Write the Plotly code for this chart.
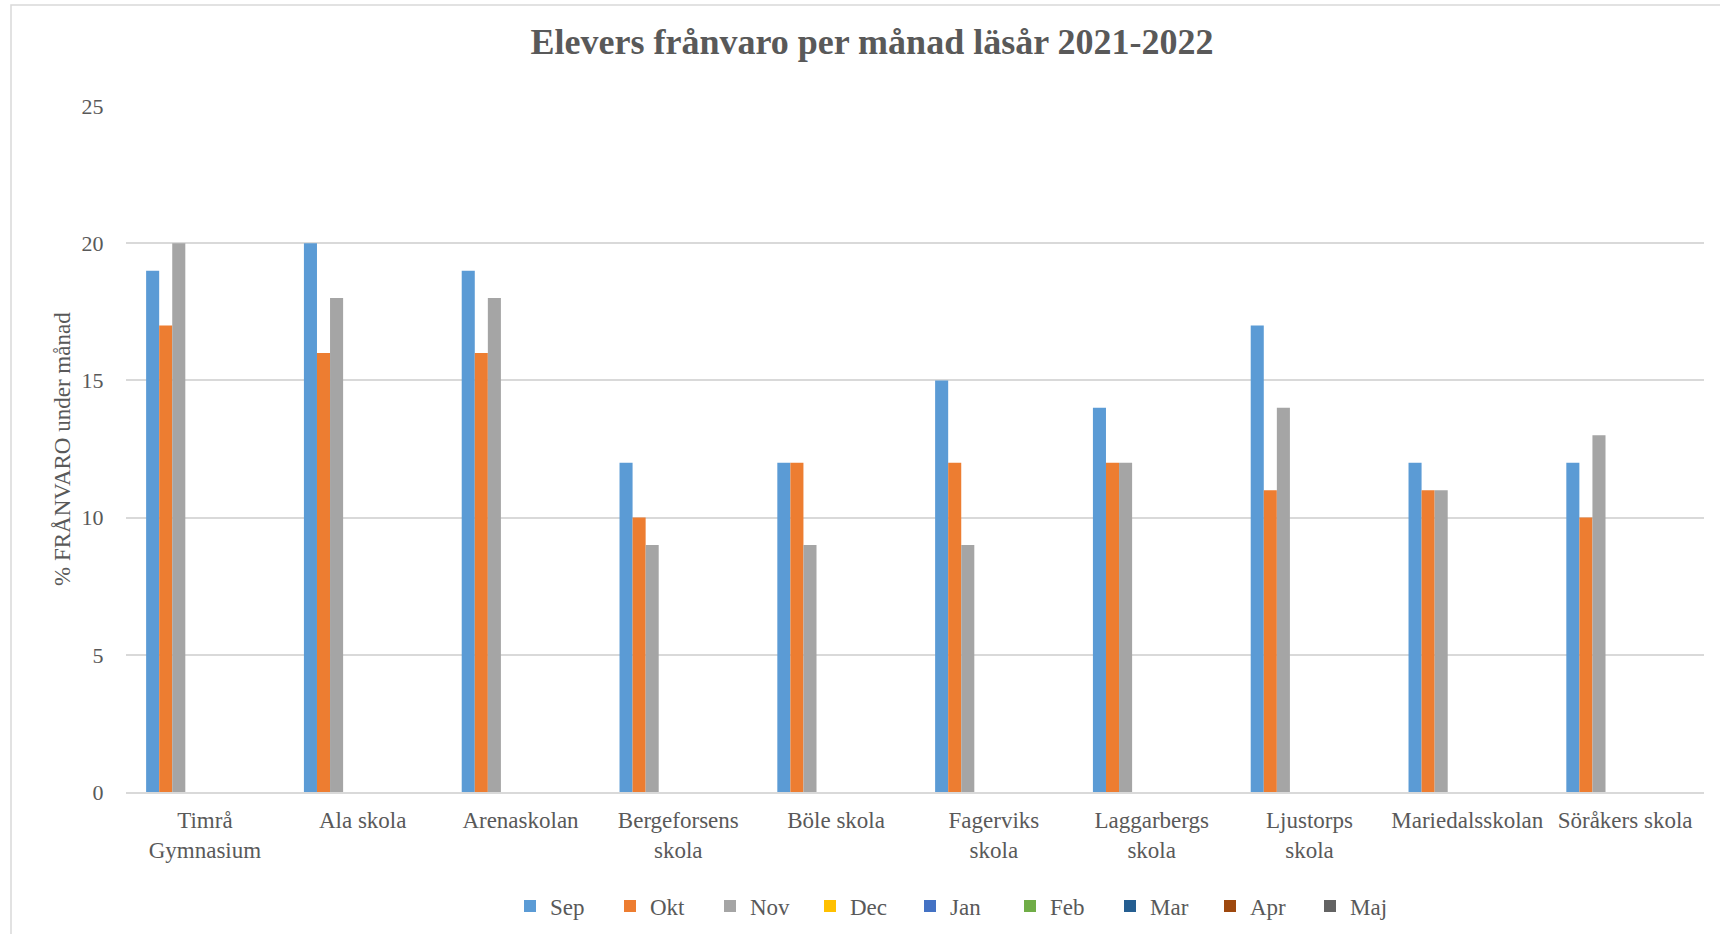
import plotly.graph_objects as go

schools = ["Timrå<br>Gymnasium", "Ala skola", "Arenaskolan", "Bergeforsens<br>skola", "Böle skola",
           "Fagerviks<br>skola", "Laggarbergs<br>skola", "Ljustorps<br>skola", "Mariedalsskolan", "Söråkers skola"]
months = ["Sep", "Okt", "Nov", "Dec", "Jan", "Feb", "Mar", "Apr", "Maj"]
sep = [19, 20, 19, 12, 12, 15, 14, 17, 12, 12]
okt = [17, 16, 16, 10, 12, 12, 12, 11, 11, 10]
nov = [20, 18, 18, 9, 9, 9, 12, 14, 11, 13]
empty = [None] * 10
series = [sep, okt, nov, empty, empty, empty, empty, empty, empty]
colors = ["#5B9BD5", "#ED7D31", "#A5A5A5", "#FFC000", "#4472C4", "#70AD47", "#255E91", "#9E480E", "#636363"]
y_ticks = [0, 5, 10, 15, 20, 25]

FONT = "Liberation Serif"
TXT = "#595959"

fig = go.Figure()
for m, vals, c in zip(months, series, colors):
    fig.add_trace(go.Bar(name=m, x=schools, y=vals, marker=dict(color=c, line=dict(width=0))))

L, R, T, B = 126, 16, 106, 142
W, H = 1720, 934
pw, ph = W - L - R, H - T - B

fig.update_layout(
    width=W, height=H,
    margin=dict(l=L, r=R, t=T, b=B, autoexpand=False),
    paper_bgcolor="white", plot_bgcolor="white",
    barmode="group", bargap=0.255, bargroupgap=0,
    font=dict(family=FONT, color=TXT, size=23),
    title=dict(text="<b>Elevers frånvaro per månad läsår 2021-2022</b>",
               x=872 / W, xref="container", xanchor="center",
               y=1 - 41 / H, yref="container", yanchor="middle",
               font=dict(family=FONT, size=36, color=TXT)),
    xaxis=dict(showgrid=False, showline=True, linecolor="#D9D9D9", linewidth=2,
               automargin=False,
               ticks="outside", ticklen=6, tickcolor="rgba(0,0,0,0)",
               tickfont=dict(size=23, color=TXT)),
    yaxis=dict(range=[0, 25], tickvals=y_ticks, showgrid=True, gridcolor="#D9D9D9", gridwidth=2,
               zeroline=False, showline=False, automargin=False,
               ticks="outside", ticklen=17, tickcolor="rgba(0,0,0,0)",
               tickfont=dict(size=22, color=TXT)),
    legend=dict(orientation="h", x=(510 - L) / pw, xanchor="left",
                y=(H - B - 906) / ph, yanchor="middle",
                font=dict(size=23, color=TXT),
                entrywidth=55, entrywidthmode="pixels", itemwidth=30,
                traceorder="normal"),
    showlegend=True,
)

fig.add_annotation(text="% FRÅNVARO under månad", textangle=-90,
                   xref="paper", yref="paper", x=(62 - L) / pw, y=0.5,
                   xanchor="center", yanchor="middle", showarrow=False,
                   font=dict(family=FONT, size=23, color=TXT))

fig.add_shape(type="rect", xref="paper", yref="paper",
              x0=(11 - L) / pw, x1=(W + 20 - L) / pw,
              y0=(H - B - (H + 20)) / ph, y1=(H - B - 5) / ph,
              line=dict(color="#D9D9D9", width=1.5), fillcolor="rgba(0,0,0,0)", layer="below")

fig.write_html("out.html")
